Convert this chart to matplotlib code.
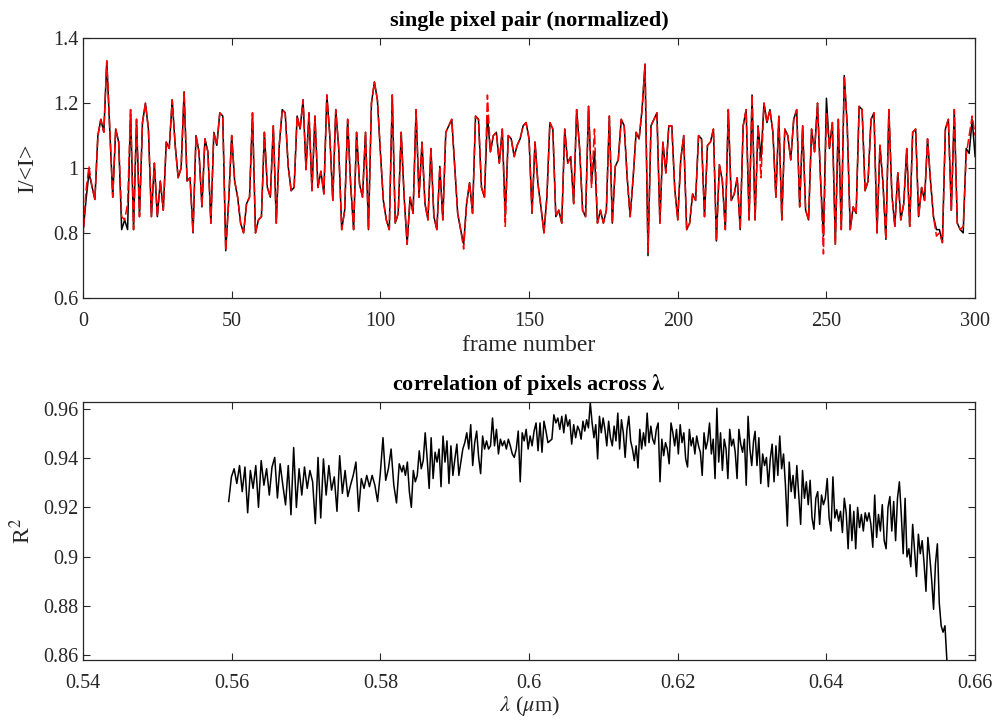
import numpy as np
import matplotlib
matplotlib.use('Agg')
import matplotlib.pyplot as plt
from matplotlib.ticker import FuncFormatter

plt.rcParams['font.family'] = ['Liberation Serif', 'DejaVu Serif']
plt.rcParams['mathtext.fontset'] = 'stix'

# top panel: one pixel pair, normalized intensity per frame
frames = np.arange(0, 301)
pix_black = [
    0.80, 0.90, 0.985, 0.944, 0.903, 1.10, 1.15, 1.11, 1.33, 1.12,
    0.91, 1.12, 1.08, 0.81, 0.84, 0.81, 1.18, 0.81, 1.15, 0.85,
    1.14, 1.20, 1.12, 0.85, 1.015, 0.85, 0.96, 0.87, 1.08, 1.06,
    1.21, 1.07, 0.97, 1.00, 1.235, 0.96, 0.97, 0.80, 1.10, 1.05,
    0.88, 1.09, 1.05, 0.83, 1.11, 1.07, 1.17, 1.16, 0.745, 0.90,
    1.10, 0.96, 0.91, 0.83, 0.80, 0.89, 0.91, 1.17, 0.80, 0.84,
    0.85, 1.11, 0.94, 0.91, 1.13, 0.83, 1.07, 1.18, 1.17, 1.005,
    0.93, 0.94, 1.16, 1.12, 1.21, 0.995, 1.17, 0.93, 1.16, 0.94,
    0.99, 0.92, 1.225, 1.10, 0.90, 1.18, 1.06, 0.81, 0.87, 1.15,
    0.95, 0.81, 1.11, 0.95, 0.91, 1.11, 0.81, 1.20, 1.265, 1.21,
    1.05, 0.90, 0.84, 0.81, 1.225, 0.83, 0.86, 1.11, 0.91, 0.765,
    0.91, 0.86, 1.18, 0.91, 1.08, 0.89, 0.84, 1.06, 0.85, 0.81,
    1.005, 0.84, 1.11, 1.13, 1.15, 1.005, 0.86, 0.81, 0.765, 0.89,
    0.955, 0.86, 1.16, 1.15, 0.94, 0.91, 1.16, 1.05, 1.10, 1.11,
    1.015, 1.12, 0.85, 1.10, 1.09, 1.035, 1.07, 1.09, 1.13, 1.14,
    1.09, 0.86, 1.08, 0.95, 0.88, 0.80, 0.91, 1.14, 1.12, 0.85,
    0.87, 0.83, 1.12, 1.015, 1.035, 0.89, 1.18, 1.06, 0.87, 0.85,
    1.19, 0.955, 1.05, 0.83, 0.87, 0.83, 0.87, 1.16, 0.83, 1.005,
    1.025, 1.15, 1.13, 0.97, 0.85, 0.97, 1.11, 1.09, 1.18, 1.32,
    0.73, 1.13, 1.15, 1.17, 0.83, 1.08, 0.985, 1.13, 1.13, 0.935,
    0.84, 1.025, 1.10, 0.81, 0.83, 0.92, 0.90, 1.10, 1.09, 0.85,
    1.07, 1.08, 1.12, 0.775, 1.01, 0.96, 0.81, 1.18, 0.90, 0.92,
    0.97, 0.81, 1.13, 1.18, 0.84, 1.225, 0.84, 1.13, 1.03, 1.20,
    1.14, 1.18, 1.11, 0.91, 1.16, 0.84, 1.12, 1.10, 1.025, 1.15,
    1.18, 0.88, 1.13, 0.87, 0.84, 1.12, 1.05, 1.20, 0.97, 0.79,
    1.215, 1.06, 1.14, 0.765, 1.15, 0.81, 1.285, 1.13, 0.81, 0.88,
    0.86, 1.19, 1.18, 0.93, 0.96, 1.15, 1.17, 0.80, 1.07, 0.955,
    0.78, 1.18, 0.92, 0.82, 0.985, 0.84, 0.89, 1.06, 0.82, 1.11,
    1.12, 0.85, 0.94, 0.90, 1.09, 0.96, 0.85, 0.81, 0.81, 0.77,
    1.12, 1.15, 0.87, 1.18, 0.83, 0.81, 0.80, 1.06, 1.045, 1.15,
    1.035,
]
pix_red = [
    0.78, 0.93, 1.005, 0.944, 0.903, 1.10, 1.15, 1.11, 1.33, 1.12,
    0.91, 1.12, 1.08, 0.85, 0.84, 0.89, 1.18, 0.81, 1.15, 0.85,
    1.14, 1.20, 1.12, 0.85, 1.015, 0.85, 0.96, 0.87, 1.08, 1.06,
    1.21, 1.07, 0.97, 1.00, 1.235, 0.96, 0.97, 0.80, 1.10, 1.05,
    0.88, 1.09, 1.05, 0.83, 1.11, 1.07, 1.17, 1.16, 0.745, 0.90,
    1.10, 0.96, 0.91, 0.83, 0.80, 0.89, 0.91, 1.17, 0.80, 0.84,
    0.85, 1.11, 0.94, 0.91, 1.13, 0.83, 1.07, 1.18, 1.17, 1.005,
    0.93, 0.94, 1.16, 1.12, 1.21, 0.995, 1.17, 0.93, 1.16, 0.94,
    0.99, 0.92, 1.225, 1.10, 0.90, 1.18, 1.06, 0.81, 0.87, 1.15,
    0.95, 0.81, 1.11, 0.95, 0.91, 1.11, 0.81, 1.20, 1.265, 1.21,
    1.05, 0.90, 0.84, 0.81, 1.225, 0.83, 0.86, 1.11, 0.91, 0.765,
    0.91, 0.86, 1.18, 0.91, 1.08, 0.89, 0.84, 1.06, 0.85, 0.81,
    1.005, 0.84, 1.11, 1.13, 1.15, 1.005, 0.86, 0.81, 0.75, 0.89,
    0.955, 0.86, 1.16, 1.15, 0.94, 0.91, 1.225, 1.05, 1.10, 1.11,
    1.015, 1.12, 0.82, 1.10, 1.09, 1.035, 1.07, 1.09, 1.13, 1.14,
    1.09, 0.86, 1.08, 0.95, 0.88, 0.80, 0.91, 1.14, 1.12, 0.85,
    0.87, 0.83, 1.12, 1.015, 1.035, 0.89, 1.18, 1.06, 0.87, 0.85,
    1.19, 0.94, 1.12, 0.83, 0.87, 0.83, 0.87, 1.16, 0.83, 1.005,
    1.025, 1.15, 1.13, 0.97, 0.85, 0.97, 1.11, 1.09, 1.18, 1.32,
    0.74, 1.13, 1.15, 1.17, 0.83, 1.08, 0.985, 1.13, 1.13, 0.935,
    0.84, 1.025, 1.10, 0.81, 0.83, 0.92, 0.90, 1.10, 1.09, 0.85,
    1.07, 1.08, 1.12, 0.775, 1.01, 0.96, 0.81, 1.18, 0.90, 0.92,
    0.97, 0.81, 1.13, 1.18, 0.84, 1.225, 0.84, 1.13, 0.97, 1.20,
    1.14, 1.18, 1.11, 0.91, 1.16, 0.84, 1.12, 1.10, 1.025, 1.15,
    1.18, 0.88, 1.13, 0.87, 0.84, 1.12, 1.05, 1.20, 0.97, 0.735,
    1.17, 1.06, 1.14, 0.765, 1.15, 0.81, 1.285, 1.13, 0.81, 0.88,
    0.86, 1.19, 1.18, 0.93, 0.96, 1.15, 1.17, 0.80, 1.07, 0.955,
    0.78, 1.18, 0.92, 0.82, 0.985, 0.84, 0.89, 1.06, 0.82, 1.11,
    1.12, 0.85, 0.94, 0.90, 1.09, 0.96, 0.85, 0.79, 0.80, 0.77,
    1.12, 1.15, 0.87, 1.18, 0.83, 0.81, 0.82, 1.04, 1.10, 1.16,
    1.10,
]

# bottom panel: R^2 vs wavelength, read in four stretches
r2_a = [
    0.9224, 0.9324, 0.9357, 0.9297, 0.937, 0.9264, 0.9364, 0.9178, 0.935, 0.9277,
    0.937, 0.92, 0.939, 0.929, 0.9357, 0.925, 0.9364, 0.9403, 0.9238, 0.9377,
    0.929, 0.921, 0.937, 0.917, 0.9443, 0.92, 0.9357, 0.925, 0.9364, 0.9277,
    0.935, 0.9304, 0.9134, 0.9403, 0.9157, 0.9397, 0.925, 0.937, 0.927, 0.9324,
    0.9184, 0.941, 0.9257, 0.935, 0.9244, 0.929, 0.933, 0.9384, 0.9184, 0.9317,
    0.9277, 0.933, 0.9284, 0.933, 0.929, 0.9224, 0.9337, 0.9483, 0.931, 0.9357,
    0.9437, 0.929, 0.9218, 0.9377, 0.9344,
]
r2_b = [
    0.937, 0.933, 0.9384, 0.9264, 0.92, 0.935, 0.9304, 0.933, 0.943, 0.9357,
    0.939, 0.9503, 0.9397, 0.9277, 0.9483, 0.9317, 0.9424, 0.9384, 0.9437, 0.9284,
    0.949, 0.9384, 0.947, 0.9297, 0.945, 0.933, 0.9397, 0.9457, 0.933, 0.9384,
    0.9437, 0.9463, 0.9503, 0.9437, 0.9536, 0.937, 0.9463, 0.951, 0.9403, 0.9337,
    0.949, 0.9437, 0.947, 0.9437, 0.945, 0.9563, 0.945, 0.9517, 0.9417, 0.9477,
    0.945, 0.947, 0.9437, 0.9477, 0.945, 0.9417, 0.9403, 0.9437, 0.951, 0.9304,
    0.9503, 0.947, 0.9517, 0.9437, 0.949, 0.945, 0.951, 0.9543, 0.943, 0.9543,
    0.9424, 0.955, 0.951, 0.9463, 0.947, 0.9477, 0.9576, 0.9543, 0.9563, 0.9517,
    0.957, 0.9503, 0.9576, 0.953, 0.9556, 0.9457, 0.9536, 0.9483, 0.953, 0.951,
]
r2_c = [
    0.9477, 0.955, 0.951, 0.9556, 0.9523, 0.9626, 0.9543, 0.9483, 0.9536, 0.9397,
    0.957, 0.9503, 0.9563, 0.9517, 0.945, 0.955, 0.9483, 0.945, 0.953, 0.947,
    0.9583, 0.9437, 0.9556, 0.9503, 0.9403, 0.9517, 0.957, 0.947, 0.9437, 0.939,
    0.945, 0.936, 0.9517, 0.9437, 0.9503, 0.945, 0.9583, 0.9463, 0.953, 0.9477,
    0.9457, 0.9517, 0.9543, 0.9304, 0.9477, 0.941, 0.9463, 0.9437, 0.9377, 0.9543,
    0.9503, 0.945, 0.9517, 0.9417, 0.9536, 0.9463, 0.9503, 0.9397, 0.9364, 0.9517,
    0.945, 0.9483, 0.9417, 0.949, 0.945, 0.9424, 0.933, 0.9503, 0.9437, 0.947,
    0.9543, 0.9417, 0.9477, 0.9317, 0.9603, 0.9384, 0.9503, 0.935, 0.9477, 0.9437,
    0.9317, 0.9517, 0.945, 0.9477, 0.9424, 0.9317, 0.9517, 0.9457, 0.9424, 0.9477,
    0.929, 0.957, 0.9437, 0.937, 0.947,
]
r2_d = [
    0.9509, 0.937, 0.9483, 0.9297, 0.9417, 0.937, 0.9403, 0.9284, 0.9397, 0.9457,
    0.9304, 0.945, 0.933, 0.949, 0.9357, 0.9417, 0.929, 0.9124, 0.9384, 0.9264,
    0.933, 0.9237, 0.937, 0.925, 0.9131, 0.935, 0.9237, 0.9304, 0.9211, 0.931,
    0.9157, 0.9111, 0.9237, 0.9264, 0.9131, 0.925, 0.9211, 0.9237, 0.9317, 0.9157,
    0.9104, 0.9324, 0.9157, 0.9191, 0.9144, 0.9184, 0.9098, 0.9237, 0.9178, 0.9032,
    0.9211, 0.9065, 0.9184, 0.9032, 0.92, 0.9118, 0.9171, 0.9104, 0.9178, 0.9144,
    0.9178, 0.9131, 0.9038, 0.925, 0.9078, 0.9171, 0.9104, 0.9211, 0.9065, 0.9032,
    0.92, 0.9244, 0.9104, 0.9224, 0.9065, 0.9237, 0.9304, 0.9171, 0.9012, 0.9237,
    0.8999, 0.9032, 0.8959, 0.9131, 0.9025, 0.8919, 0.9091, 0.9012, 0.9065, 0.8972,
    0.8859, 0.9078, 0.8999, 0.8905, 0.8786, 0.8972, 0.9052, 0.8812, 0.8719, 0.8693,
    0.8719, 0.858,
]
# wavelength span (um) of each stretch
lam_spans = [(0.5596, 0.5829), (0.5831, 0.6068), (0.6070, 0.6302), (0.6304, 0.6562)]

segs = [r2_a, r2_b, r2_c, r2_d]
lam = np.concatenate([np.linspace(a, b, len(s)) for (a, b), s in zip(lam_spans, segs)])
r2 = np.concatenate(segs)

axcol = '#262626'
fig = plt.figure(figsize=(9.94, 7.21), dpi=100)
ax1 = fig.add_axes([0.0835, 0.587, 0.8975, 0.360])
ax2 = fig.add_axes([0.0835, 0.0846, 0.8975, 0.3578])

ax1.plot(frames, pix_black, color='black', lw=1.1)
ax1.plot(frames, pix_red, color='red', lw=1.1, dashes=(6, 2))
ax1.set_xlim(0, 300)
ax1.set_ylim(0.6, 1.4)
ax1.set_xticks([0, 50, 100, 150, 200, 250, 300])
ax1.set_yticks([0.6, 0.8, 1.0, 1.2, 1.4])
ax1.set_xlabel('frame number', fontsize=17, color=axcol, labelpad=3)
ax1.set_ylabel('I/<I>', fontsize=17, color=axcol)
ax1.yaxis.set_label_coords(-0.050, 0.5)
ax1.set_title('single pixel pair (normalized)', fontsize=16, fontweight='bold', pad=9)

ax2.plot(lam, r2, color='black', lw=1.1)
ax2.set_xlim(0.54, 0.66)
ax2.set_ylim(0.858, 0.9628)
ax2.set_xticks([0.54, 0.56, 0.58, 0.60, 0.62, 0.64, 0.66])
ax2.set_yticks([0.86, 0.88, 0.90, 0.92, 0.94, 0.96])
ax2.set_xlabel(r'$\lambda$ ($\mu$m)', fontsize=16, color=axcol, labelpad=1)
ax2.set_ylabel(r'R$^2$', fontsize=17, color=axcol)
ax2.yaxis.set_label_coords(-0.054, 0.5)
ax2.set_title(r'correlation of pixels across $\boldsymbol{\lambda}$', fontsize=16,
              fontweight='bold', pad=9)

fmt = FuncFormatter(lambda v, p: '%g' % round(v, 4))
for ax in (ax1, ax2):
    ax.xaxis.set_major_formatter(fmt)
    ax.yaxis.set_major_formatter(fmt)
    ax.tick_params(direction='in', top=True, right=True, length=5, width=0.8,
                   labelsize=14.5, colors=axcol)
    ax.tick_params(axis='x', pad=10)
    ax.tick_params(axis='y', pad=3)
    for sp in ax.spines.values():
        sp.set_color(axcol)
        sp.set_linewidth(0.9)

fig.savefig('out.png', dpi=100)
